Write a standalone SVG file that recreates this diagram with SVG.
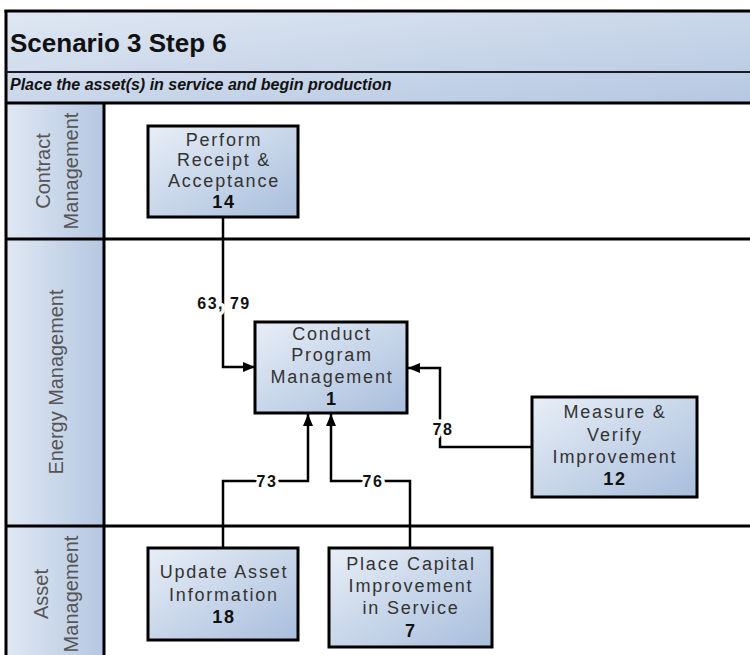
<svg xmlns="http://www.w3.org/2000/svg" width="750" height="655" viewBox="0 0 750 655">
<defs>
<linearGradient id="gHead" x1="0" y1="0" x2="1" y2="1">
<stop offset="0" stop-color="#dfe7f2"/>
<stop offset="1" stop-color="#b5c7e1"/>
</linearGradient>
<linearGradient id="gLane" x1="0" y1="0" x2="1" y2="0">
<stop offset="0" stop-color="#e0e8f3"/>
<stop offset="1" stop-color="#b5c7e1"/>
</linearGradient>
<linearGradient id="gNode" x1="0" y1="0" x2="1" y2="1">
<stop offset="0" stop-color="#e8eef7"/>
<stop offset="1" stop-color="#a8bedc"/>
</linearGradient>
<marker id="arr" viewBox="0 0 12 10" refX="12" refY="5" markerWidth="12" markerHeight="10" markerUnits="userSpaceOnUse" orient="auto">
<path d="M0,0 L12,5 L0,10 z" fill="#000"/>
</marker>
</defs>
<style>
.frame{stroke:#000;stroke-width:3;fill:none}
.thin{stroke:#1a1a2a;stroke-width:2;fill:none}
.node rect{fill:url(#gNode);stroke:#000;stroke-width:3}
.node text{font-family:"Liberation Sans",Arial,sans-serif;font-size:18px;fill:#333;text-anchor:middle;letter-spacing:1.8px}
.node text.num{font-weight:bold;fill:#111}
.lane text{font-family:"Liberation Sans",Arial,sans-serif;font-size:20px;fill:#555;text-anchor:middle}
.conn path{stroke:#000;stroke-width:2.5;fill:none}
.lbl{font-family:"Liberation Sans",Arial,sans-serif;font-size:16px;font-weight:bold;fill:#111;text-anchor:middle;letter-spacing:1.5px;stroke:#fff;stroke-width:7px;paint-order:stroke;stroke-linejoin:round}
</style>
<rect width="750" height="655" fill="#fff"/>
<g id="header">
<rect x="6" y="11" width="750" height="92" fill="url(#gHead)"/>
<text x="10" y="52" font-family="'Liberation Sans',Arial,sans-serif" font-size="26" font-weight="bold" fill="#111">Scenario 3 Step 6</text>
<text x="10" y="90" font-family="'Liberation Sans',Arial,sans-serif" font-size="16" font-weight="bold" font-style="italic" fill="#111">Place the asset(s) in service and begin production</text>
</g>
<g id="lanes" class="lane">
<rect x="6" y="103" width="98" height="136" fill="url(#gLane)"/>
<rect x="6" y="239" width="98" height="287" fill="url(#gLane)"/>
<rect x="6" y="526" width="98" height="140" fill="url(#gLane)"/>
<text transform="translate(50,171) rotate(-90)">Contract</text>
<text transform="translate(78,171) rotate(-90)">Management</text>
<text transform="translate(63,382) rotate(-90)" textLength="185" lengthAdjust="spacingAndGlyphs">Energy Management</text>
<text transform="translate(48,594) rotate(-90)">Asset</text>
<text transform="translate(78,594) rotate(-90)">Management</text>
</g>
<g id="gridlines">
<line class="frame" x1="4.5" y1="11" x2="750" y2="11"/>
<line class="frame" x1="6" y1="10" x2="6" y2="655"/>
<line class="thin" x1="6" y1="72" x2="750" y2="72"/>
<line class="frame" x1="6" y1="103" x2="750" y2="103"/>
<line class="frame" x1="104" y1="103" x2="104" y2="655"/>
<line class="frame" x1="6" y1="239" x2="750" y2="239"/>
<line class="frame" x1="6" y1="526" x2="750" y2="526"/>
</g>
<g id="connectors" class="conn">
<path d="M223,217 V367 H255" marker-end="url(#arr)"/>
<path d="M532,447 H440 V368 H408" marker-end="url(#arr)"/>
<path d="M223,548 V481 H308 V414" marker-end="url(#arr)"/>
<path d="M410,548 V481 H331 V414" marker-end="url(#arr)"/>
</g>
<g id="labels">
<text class="lbl" x="224" y="309">63, 79</text>
<text class="lbl" x="443" y="435">78</text>
<text class="lbl" x="267" y="487">73</text>
<text class="lbl" x="373" y="487">76</text>
</g>
<g id="n14" class="node">
<rect x="148" y="126" width="150" height="91"/>
<text x="224" y="146">Perform</text>
<text x="224" y="166">Receipt &amp;</text>
<text x="224" y="187">Acceptance</text>
<text class="num" x="224" y="208">14</text>
</g>
<g id="n1" class="node">
<rect x="255" y="322" width="152" height="91"/>
<text x="332" y="340">Conduct</text>
<text x="332" y="361">Program</text>
<text x="332" y="383">Management</text>
<text class="num" x="332" y="405">1</text>
</g>
<g id="n12" class="node">
<rect x="532" y="397" width="165" height="100"/>
<text x="615" y="418">Measure &amp;</text>
<text x="615" y="441">Verify</text>
<text x="615" y="463">Improvement</text>
<text class="num" x="615" y="485">12</text>
</g>
<g id="n18" class="node">
<rect x="148" y="548" width="150" height="92"/>
<text x="224" y="578">Update Asset</text>
<text x="224" y="601">Information</text>
<text class="num" x="224" y="623">18</text>
</g>
<g id="n7" class="node">
<rect x="329" y="548" width="163" height="99"/>
<text x="411" y="570">Place Capital</text>
<text x="411" y="592">Improvement</text>
<text x="411" y="614">in Service</text>
<text class="num" x="411" y="637">7</text>
</g>
</svg>
